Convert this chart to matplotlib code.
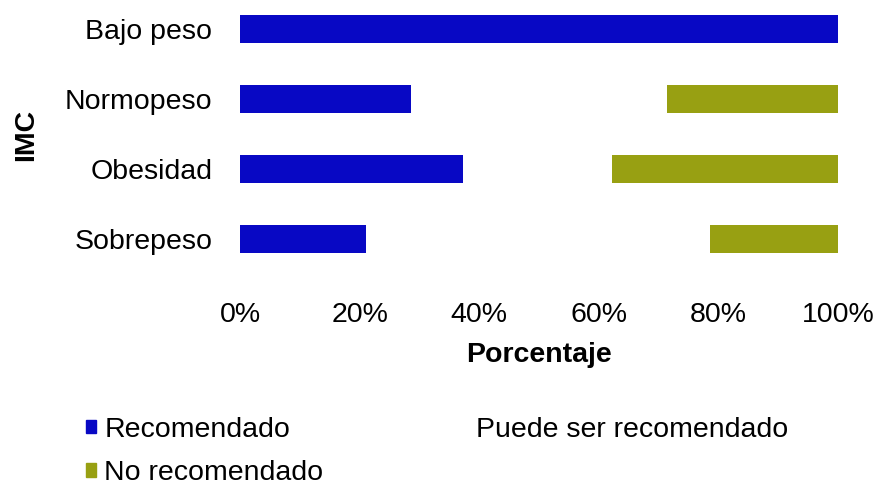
import numpy as np
import matplotlib.pyplot as plt
from matplotlib.patches import Patch

plt.rcParams['font.family'] = ['Liberation Sans', 'DejaVu Sans']

# Distribución por IMC (fracción del total)
categorias = ['Bajo peso', 'Normopeso', 'Obesidad', 'Sobrepeso']
recomendado = [1.000, 0.286, 0.373, 0.211]
puede_ser = [0.000, 0.428, 0.249, 0.575]
no_recomendado = [0.000, 0.286, 0.378, 0.214]
ticks = [0, 0.2, 0.4, 0.6, 0.8, 1.0]

azul = '#0808C4'
oliva = '#98A012'
fs = 20.5

fig = plt.figure(figsize=(8.81, 4.86), dpi=100)
ax = fig.add_axes([240 / 881, 1 - 280 / 486, 598 / 881, 280 / 486])

y = np.arange(len(categorias))
rec = np.array(recomendado)
pue = np.array(puede_ser)
no = np.array(no_recomendado)
ax.barh(y, rec, height=0.4, color=azul, label='Recomendado')
ax.barh(y, pue, height=0.4, left=rec, color='white', label='Puede ser recomendado')
ax.barh(y, no, height=0.4, left=rec + pue, color=oliva, label='No recomendado')

ax.set_xlim(0, 1)
ax.set_ylim(3.586, -0.414)
ax.set_yticks(y)
ax.set_yticklabels(categorias, fontsize=fs)
ax.set_xticks(ticks)
ax.set_xticklabels([f'{int(t * 100)}%' for t in ticks], fontsize=fs)
ax.tick_params(length=0)
ax.tick_params(axis='y', pad=20)
ax.tick_params(axis='x', pad=16)
for s in ax.spines.values():
    s.set_visible(False)

ax.set_xlabel('Porcentaje', fontsize=fs, fontweight='bold', labelpad=10)
fig.text(26 / 881, 1 - 135 / 486, 'IMC', rotation=90, fontsize=fs,
         fontweight='bold', ha='center', va='center')

handles = [Patch(color=azul), Patch(color=oliva), Patch(color='white')]
labels = ['Recomendado', 'No recomendado', 'Puede ser recomendado']
fig.legend(handles, labels, ncol=2, frameon=False, fontsize=fs,
           loc='upper left', bbox_to_anchor=(60 / 881, 1 - 391 / 486),
           handlelength=0.35, handleheight=0.35, handletextpad=0.3,
           columnspacing=4.7, labelspacing=0.62)

fig.savefig('out.png', dpi=100)
